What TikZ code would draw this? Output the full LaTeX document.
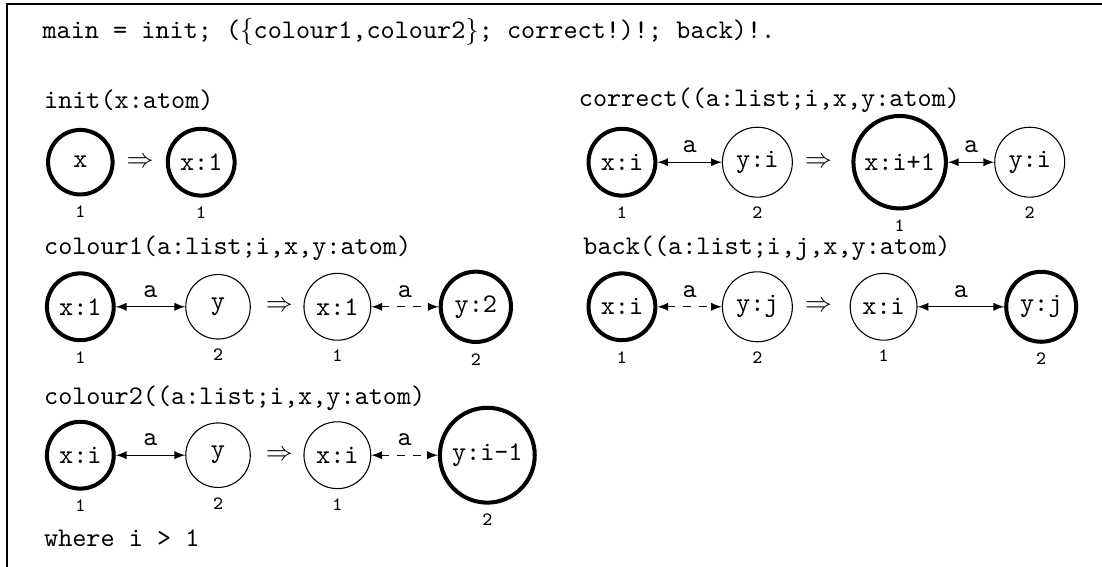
\documentclass[tikz,border=0pt]{standalone}
\usepackage{amsmath}
\usepackage{amssymb}
\usepackage{tikz}

\begin{document}
\begin{tikzpicture}[font=\ttfamily,
	every label/.style={font=\ttfamily\scriptsize},
	state/.style={circle, draw, minimum size=24pt, inner sep=3pt},
	rooted/.style={state, line width=1.5pt},
	link/.style={<->, >=latex}]
	\useasboundingbox (0,0) rectangle (14.405,-7.399);
	% frame, open to the right and below
	\draw[line width=0.6pt] (0.09,-8) -- (0.09,-0.05) -- (15,-0.05);

	% the main program and the rule headers
	\node (main) at (0.55,-0.42) [anchor=west, inner sep=0pt] {main = init; ($\{$colour1,colour2$\}$; correct!)!; back)!.};
	\node (init) at (0.57,-1.31) [anchor=west, inner sep=0pt] {init(x:atom)};
	\node (colour1) at (0.57,-3.24) [anchor=west, inner sep=0pt] {colour1(a:list;i,x,y:atom)};
	\node (colour2) at (0.57,-5.20) [anchor=west, inner sep=0pt] {colour2((a:list;i,x,y:atom)};
	\node (where) at (0.57,-7.03) [anchor=west, inner sep=0pt] {where i > 1};
	\node (correct) at (7.56,-1.31) [anchor=west, inner sep=0pt] {correct((a:list;i,x,y:atom)};
	\node (back) at (7.62,-3.24) [anchor=west, inner sep=0pt] {back((a:list;i,j,x,y:atom)};

	% init
	\node (i1) at (1.05,-2.12) [rooted, label=below:1] {x};
	\node (ito) at (1.83,-2.12) {$\Rightarrow$};
	\node (i1r) at (2.63,-2.12) [rooted, label=below:1] {x:1};

	% colour1
	\node (a1) at (1.05,-4.01) [rooted, label=below:1] {x:1};
	\node (a2) at (2.85,-4.01) [state, label=below:2] {y};
	\node (ato) at (3.65,-4.01) {$\Rightarrow$};
	\node (a1r) at (4.41,-4.01) [state, label=below:1] {x:1};
	\node (a2r) at (6.22,-4.01) [rooted, label=below:2] {y:2};
	\draw[link] (a1) to node [above] {a} (a2);
	\draw[link, dashed] (a1r) to node [above] {a} (a2r);

	% colour2
	\node (b1) at (1.05,-5.95) [rooted, label=below:1] {x:i};
	\node (b2) at (2.85,-5.95) [state, label=below:2] {y};
	\node (bto) at (3.65,-5.95) {$\Rightarrow$};
	\node (b1r) at (4.41,-5.95) [state, label=below:1] {x:i};
	\node (b2r) at (6.37,-5.95) [rooted, label=below:2] {y:i-1};
	\draw[link] (b1) to node [above] {a} (b2);
	\draw[link, dashed] (b1r) to node [above] {a} (b2r);

	% correct
	\node (c1) at (8.13,-2.12) [rooted, label=below:1] {x:i};
	\node (c2) at (9.90,-2.12) [state, label=below:2] {y:i};
	\node (cto) at (10.70,-2.12) {$\Rightarrow$};
	\node (c1r) at (11.76,-2.12) [rooted, label=below:1] {x:i+1};
	\node (c2r) at (13.46,-2.12) [state, label=below:2] {y:i};
	\draw[link] (c1) to node [above] {a} (c2);
	\draw[link] (c1r) to node [above] {a} (c2r);

	% back
	\node (d1) at (8.13,-4.01) [rooted, label=below:1] {x:i};
	\node (d2) at (9.90,-4.01) [state, label=below:2] {y:j};
	\node (dto) at (10.70,-4.01) {$\Rightarrow$};
	\node (d1r) at (11.55,-4.01) [state, label=below:1] {x:i};
	\node (d2r) at (13.61,-4.01) [rooted, label=below:2] {y:j};
	\draw[link, dashed] (d1) to node [above] {a} (d2);
	\draw[link] (d1r) to node [above] {a} (d2r);
\end{tikzpicture}
\end{document}
